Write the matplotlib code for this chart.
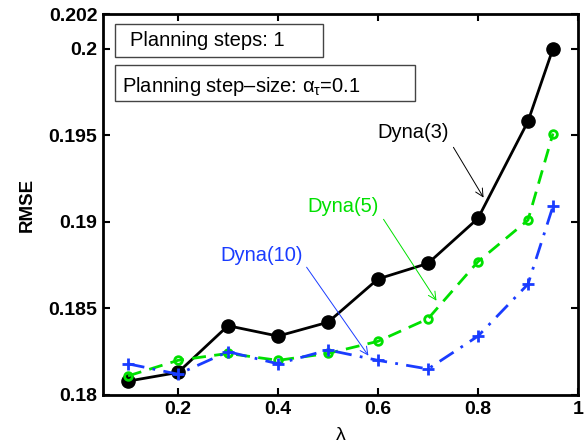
import matplotlib
matplotlib.use("Agg")
import matplotlib.pyplot as plt
from matplotlib.patches import Rectangle

plt.rcParams["font.family"] = ["Liberation Sans", "DejaVu Sans"]
plt.rcParams["mathtext.fontset"] = "custom"
plt.rcParams["mathtext.rm"] = "Liberation Sans"
plt.rcParams["mathtext.it"] = "Liberation Sans"

# Data
lam = [0.1, 0.2, 0.3, 0.4, 0.5, 0.6, 0.7, 0.8, 0.9, 0.95]
dyna3 = [0.1808, 0.1813, 0.1840, 0.1834, 0.1842, 0.1867, 0.1876, 0.1902, 0.1958, 0.2000]
dyna5 = [0.1811, 0.1820, 0.1824, 0.1820, 0.1824, 0.1831, 0.1844, 0.1877, 0.1901, 0.1951]
dyna10 = [0.1818, 0.1812, 0.1825, 0.1818, 0.1826, 0.1820, 0.1815, 0.1834, 0.1864, 0.1909]

xticks = [0.2, 0.4, 0.6, 0.8, 1.0]
xticklabels = ["0.2", "0.4", "0.6", "0.8", "1"]
yticks = [0.18, 0.185, 0.19, 0.195, 0.2, 0.202]
yticklabels = ["0.18", "0.185", "0.19", "0.195", "0.2", "0.202"]

fig = plt.figure(figsize=(5.84, 4.45), dpi=100)
ax = fig.add_axes([0.1764, 0.1124, 0.8133, 0.8561])

ax.plot(lam, dyna3, "-", color="black", lw=2, marker="o", ms=9.5, mfc="black", mec="black")
ax.plot(lam, dyna5, color="#00e000", lw=2, dashes=(5, 3), marker="o", ms=5.5,
        mfc="none", mec="#00e000", mew=2)
ax.plot(lam, dyna10, color="#1a3cff", lw=2, dashes=(6, 3, 1, 3), marker="+", ms=9,
        mec="#1a3cff", mew=2)

ax.set_xlim(0.05, 1.0)
ax.set_ylim(0.18, 0.202)
ax.set_xticks(xticks)
ax.set_xticklabels(xticklabels)
ax.set_yticks(yticks)
ax.set_yticklabels(yticklabels)
ax.tick_params(direction="in", length=5, width=1.5, top=True, right=True,
               labelsize=14, pad=4)
for lbl in ax.get_xticklabels() + ax.get_yticklabels():
    lbl.set_fontweight("bold")
for sp in ax.spines.values():
    sp.set_linewidth(2)

ax.set_ylabel("RMSE", fontsize=13.5, fontweight="bold", labelpad=9)
ax.set_xlabel("λ", fontsize=14, labelpad=7)

# annotations
ax.text(0.67, 0.19513, "Dyna(3)", fontsize=14.5, color="black", ha="center", va="center")
ax.annotate("", xy=(0.814, 0.19126), xytext=(0.748, 0.19444),
            arrowprops=dict(arrowstyle="->", color="black", lw=0.7, mutation_scale=14))
ax.text(0.53, 0.19086, "Dyna(5)", fontsize=14.5, color="#00e000", ha="center", va="center")
ax.annotate("", xy=(0.72, 0.18531), xytext=(0.608, 0.19028),
            arrowprops=dict(arrowstyle="->", color="#00e000", lw=0.7, mutation_scale=14))
ax.text(0.368, 0.18808, "Dyna(10)", fontsize=14.5, color="#1a3cff", ha="center", va="center")
ax.annotate("", xy=(0.584, 0.18214), xytext=(0.454, 0.18751),
            arrowprops=dict(arrowstyle="->", color="#1a3cff", lw=0.7, mutation_scale=14))

# text boxes
fig.patches.append(Rectangle((0.1969, 0.8719), 0.3562, 0.0742, transform=fig.transFigure,
                             fill=False, edgecolor="#444444", lw=1))
fig.text(0.2226, 0.909, "Planning steps: 1", fontsize=14.5, ha="left", va="center")
fig.patches.append(Rectangle((0.1969, 0.7730), 0.5137, 0.0809, transform=fig.transFigure,
                             fill=False, edgecolor="#444444", lw=1))
fig.text(0.2089, 0.8052, "Planning step\u2013size: $\\alpha_\\tau$=0.1", fontsize=14.5,
         ha="left", va="center")

fig.savefig("out.png", dpi=100)
